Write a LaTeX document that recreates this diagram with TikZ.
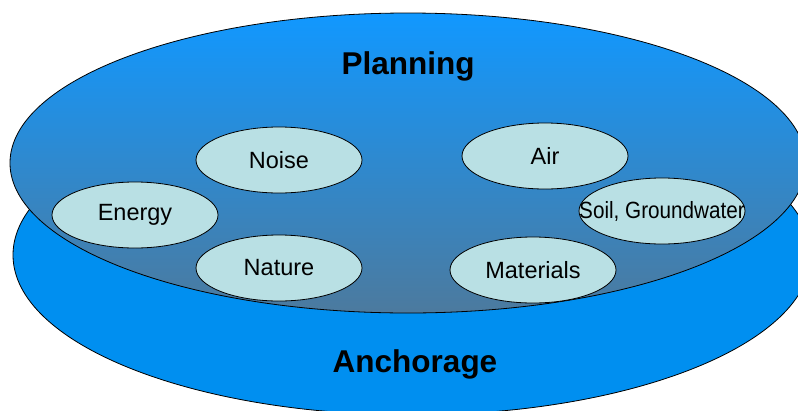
\documentclass[tikz,border=0pt]{standalone}
\usepackage{fontspec}
\setmainfont{Liberation Sans}
\usetikzlibrary{shapes.geometric}

\definecolor{planTop}{RGB}{17,152,255}
\definecolor{planBottom}{RGB}{76,122,158}
\definecolor{anchorBlue}{RGB}{0,143,240}
\definecolor{topicFill}{RGB}{185,224,228}

\begin{document}
\begin{tikzpicture}[x=1pt,y=-1pt,line width=0.8pt,
    topic/.style={ellipse,draw,fill=topicFill,minimum width=166pt,minimum height=66pt,
      inner sep=0pt,font=\fontsize{23.5}{26}\selectfont},
    title/.style={anchor=base,font=\fontsize{31.5}{36}\selectfont\bfseries}]
    \useasboundingbox (0,0) rectangle (798,410);
    \clip (0,0) rectangle (798,410);
    % the two layers
    \draw[fill=anchorBlue] (412,255) ellipse [x radius=399, y radius=160];
    \draw[top color=planTop,bottom color=planBottom] (408,163) ellipse [x radius=398, y radius=150];
    \node[title] (planning) at (408,74) {Planning};
    \node[title] (anchorage) at (415,372) {Anchorage};
    % topics
    \node[topic] (noise) at (279,160) {Noise};
    \node[topic] (energy) at (135,215) {Energy};
    \node[topic] (nature) at (279,268) {Nature};
    \node[topic] (air) at (545,156) {Air};
    \node[topic] (soil) at (662,211) {\makebox[0pt]{\scalebox{0.88}[1]{Soil, Groundwater}}};
    \node[topic] (materials) at (533,270) {Materials};
\end{tikzpicture}
\end{document}
